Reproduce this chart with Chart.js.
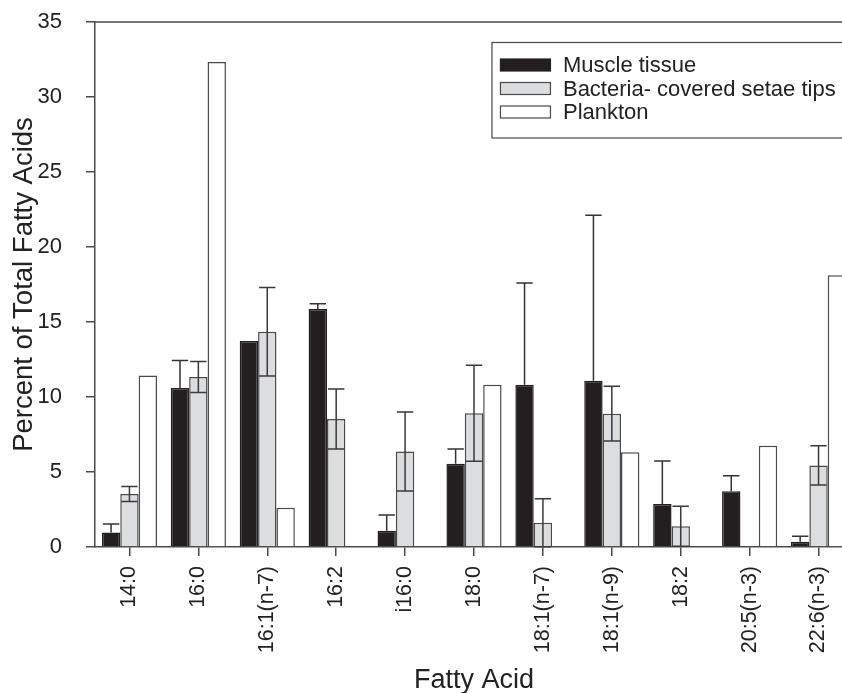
<!DOCTYPE html>
<html>
<head>
<meta charset="utf-8">
<script src="https://cdn.jsdelivr.net/npm/chart.js@4.4.1/dist/chart.umd.min.js"></script>
<style>
html,body{margin:0;padding:0;background:#fff;overflow:hidden;width:842px;height:693px}
canvas{display:block}
</style>
</head>
<body>
<canvas id="c" width="860" height="693"></canvas>
<script>
const categories = ['14:0','16:0','16:1(n-7)','16:2','i16:0','18:0','18:1(n-7)','18:1(n-9)','18:2','20:5(n-3)','22:6(n-3)'];
const seriesNames = ['Muscle tissue','Bacteria- covered setae tips','Plankton'];
const muscleValues   = [0.97, 10.6, 13.73, 15.87, 1.09, 5.55, 10.82, 11.09, 2.87, 3.71, 0.35];
const muscleErrors   = [0.56, 1.84, null, 0.35, 1.04, 0.98, 6.78, 11.02, 2.86, 1.04, 0.36];
const bacteriaValues = [3.53, 11.33, 14.35, 8.53, 6.37, 8.91, 1.62, 8.89, 1.38, null, 5.44];
const bacteriaErrors = [0.5, 1.03, 2.95, 2.0, 2.63, 3.2, 1.6, 1.82, 1.33, null, 1.31];
const planktonValues = [11.44, 32.33, 2.62, null, null, 10.82, null, 6.31, null, 6.75, 18.11];
const yTicks = [0, 5, 10, 15, 20, 25, 30, 35];

const FONT = "'Liberation Sans', Arial, sans-serif";
const TEXT = '#222222';
const LINE = '#4a4a4a';

const errorBarPlugin = {
  id: 'errorBars',
  afterDatasetsDraw(chart) {
    const ctx = chart.ctx;
    const yScale = chart.scales.y;
    chart.data.datasets.forEach((ds, i) => {
      if (!ds.errors) return;
      const meta = chart.getDatasetMeta(i);
      meta.data.forEach((el, j) => {
        const v = ds.data[j], e = ds.errors[j];
        if (v == null || e == null) return;
        const x = el.x;
        const half = el.width / 2 - 1;
        const yv = yScale.getPixelForValue(v);
        const yt = yScale.getPixelForValue(v + e);
        const yb = yScale.getPixelForValue(Math.max(0, v - e));
        ctx.save();
        ctx.strokeStyle = ds.errorColor;
        ctx.lineWidth = 1.5;
        ctx.beginPath();
        ctx.moveTo(x - half, yt); ctx.lineTo(x + half, yt);
        if (ds.errorLower) {
          ctx.moveTo(x, yt); ctx.lineTo(x, yb);
          ctx.moveTo(x - half, yb); ctx.lineTo(x + half, yb);
        } else {
          ctx.moveTo(x, yt); ctx.lineTo(x, yv);
        }
        ctx.stroke();
        ctx.restore();
      });
    });
  }
};

const framePlugin = {
  id: 'frame',
  afterDraw(chart) {
    const {ctx, chartArea: a} = chart;
    ctx.save();
    ctx.strokeStyle = LINE;
    ctx.lineWidth = 1.5;
    ctx.beginPath();
    ctx.moveTo(a.left, a.top); ctx.lineTo(a.right, a.top); ctx.lineTo(a.right, a.bottom);
    ctx.stroke();
    ctx.restore();
  }
};

const boxLegendPlugin = {
  id: 'boxLegend',
  afterDraw(chart, args, o) {
    const ctx = chart.ctx;
    const a = chart.chartArea;
    const left = a.left + o.leftFrac * a.width;
    const top = a.top + o.topOffset;
    ctx.save();
    ctx.strokeStyle = LINE;
    ctx.lineWidth = 1.2;
    ctx.strokeRect(left, top, a.right - left - 3, o.height);
    ctx.font = o.fontSize + 'px ' + FONT;
    ctx.textBaseline = 'middle';
    chart.data.datasets.forEach((ds, i) => {
      const cy = top + o.firstRow + i * o.rowGap;
      const sx = left + o.swatchPad;
      ctx.fillStyle = ds.backgroundColor;
      ctx.fillRect(sx, cy - o.swatchH / 2, o.swatchW, o.swatchH);
      ctx.strokeStyle = ds.borderColor;
      ctx.lineWidth = 1.2;
      ctx.strokeRect(sx, cy - o.swatchH / 2, o.swatchW, o.swatchH);
      ctx.fillStyle = TEXT;
      ctx.fillText(ds.label, sx + o.swatchW + o.textGap, cy + 1);
    });
    ctx.restore();
  }
};

new Chart(document.getElementById('c'), {
  type: 'bar',
  data: {
    labels: categories,
    datasets: [
      {label: seriesNames[0], data: muscleValues, errors: muscleErrors, errorColor: '#333333', errorLower: false,
       backgroundColor: '#231f20', borderColor: '#231f20', borderWidth: 1.5},
      {label: seriesNames[1], data: bacteriaValues, errors: bacteriaErrors, errorColor: '#3a3a3a', errorLower: true,
       backgroundColor: '#dcdddf', borderColor: LINE, borderWidth: 1.5},
      {label: seriesNames[2], data: planktonValues,
       backgroundColor: '#ffffff', borderColor: LINE, borderWidth: 1.5}
    ]
  },
  options: {
    responsive: false,
    animation: false,
    events: [],
    layout: {padding: {top: 22, right: 7, left: 0, bottom: 0}},
    datasets: {bar: {categoryPercentage: 0.8, barPercentage: 1.0}},
    plugins: {
      legend: {display: false},
      tooltip: {enabled: false},
      boxLegend: {leftFrac: 0.5237, topOffset: 20.5, height: 95.5, firstRow: 22.5, rowGap: 23.5,
                  swatchPad: 8.5, swatchW: 50, swatchH: 12, textGap: 12.5, fontSize: 22}
    },
    scales: {
      x: {
        offset: true,
        grid: {display: true, drawOnChartArea: false, drawTicks: true, tickLength: 9, offset: false, color: LINE, lineWidth: 1.5},
        border: {display: true, color: LINE, width: 1.5},
        ticks: {autoSkip: false, minRotation: 90, maxRotation: 90, padding: 10, color: TEXT,
                font: {family: FONT, size: 21.5}},
        title: {display: true, text: 'Fatty Acid', color: TEXT,
                font: {family: FONT, size: 27, lineHeight: 0.9}, padding: {top: 0, bottom: 0}},
        afterFit(s) { s.height = 146; s.paddingLeft = 0; s.paddingRight = 0; }
      },
      y: {
        min: 0, max: 35,
        afterBuildTicks(s) { s.ticks = yTicks.map(v => ({value: v})); },
        grid: {display: true, drawOnChartArea: false, drawTicks: true, tickLength: 9, color: LINE, lineWidth: 1.5},
        border: {display: true, color: LINE, width: 1.5},
        ticks: {padding: 24, color: TEXT, font: {family: FONT, size: 22}},
        title: {display: true, text: 'Percent of Total Fatty Acids', color: TEXT,
                font: {family: FONT, size: 27.5, lineHeight: 1.2}, padding: {top: 8, bottom: 0}},
        afterFit(s) { s.width = 95; s.paddingTop = 0; s.paddingBottom = 0; }
      }
    }
  },
  plugins: [errorBarPlugin, framePlugin, boxLegendPlugin]
});
</script>
</body>
</html>
